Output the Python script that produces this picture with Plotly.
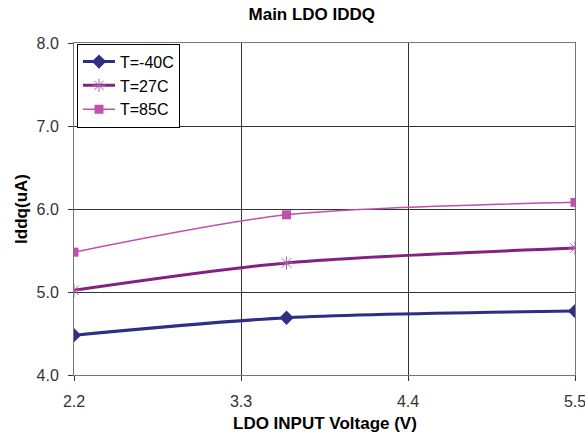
import plotly.graph_objects as go

voltage = [2.2, 3.6, 5.5]
iddq_m40 = [4.48, 4.69, 4.77]
iddq_27 = [5.02, 5.35, 5.53]
iddq_85 = [5.48, 5.93, 6.08]
x_ticks = [2.2, 3.3, 4.4, 5.5]
y_ticks = [4.0, 5.0, 6.0, 7.0, 8.0]

fig = go.Figure()
fig.add_trace(go.Scatter(
    x=voltage, y=iddq_m40, name="T=-40C", mode="lines+markers",
    line=dict(color="#2e2e84", width=3, shape="spline", smoothing=0.8),
    marker=dict(symbol="diamond", size=11, color="#2e2e84")))
fig.add_trace(go.Scatter(
    x=voltage, y=iddq_27, name="T=27C", mode="lines+markers",
    line=dict(color="#84207f", width=3, shape="spline", smoothing=0.8),
    marker=dict(symbol="asterisk-open", size=11, color="#b060b0",
                line=dict(color="#b060b0", width=1))))
fig.add_trace(go.Scatter(
    x=voltage, y=iddq_85, name="T=85C", mode="lines+markers",
    line=dict(color="#c04fae", width=1.5, shape="spline", smoothing=0.8),
    marker=dict(symbol="square", size=9, color="#c04fae")))

fig.update_layout(
    width=585, height=439,
    margin=dict(l=74, r=10, t=43, b=64, autoexpand=False),
    paper_bgcolor="white", plot_bgcolor="white",
    font=dict(family="Liberation Sans, Arial, sans-serif", size=16, color="#333"),
    title=dict(text="<b>Main LDO IDDQ</b>", x=0.533, xanchor="center",
               y=0.967, yanchor="middle", automargin=False,
               font=dict(size=17, color="#000")),
    showlegend=True,
    legend=dict(x=0.006, y=0.998, xanchor="left", yanchor="top",
                bgcolor="white", bordercolor="#000", borderwidth=1,
                font=dict(size=16, color="#000"), tracegroupgap=0,
                itemwidth=32),
    annotations=[
        dict(text="<b>LDO INPUT Voltage (V)</b>", xref="paper", yref="paper",
             x=0.5, y=-0.145, xanchor="center", yanchor="middle", showarrow=False,
             font=dict(size=17, color="#000")),
        dict(text="<b>Iddq(uA)</b>", xref="paper", yref="paper",
             x=-0.106, y=0.5, xanchor="center", yanchor="middle", showarrow=False,
             textangle=-90, font=dict(size=17, color="#000")),
    ],
)
fig.update_xaxes(
    range=[2.2, 5.5], tickvals=x_ticks, ticktext=[f"{v:.1f}" for v in x_ticks],
    showgrid=True, gridcolor="#333", gridwidth=1,
    showline=True, linecolor="#777", linewidth=1, mirror=True,
    ticks="outside", ticklen=5, tickcolor="#333", ticklabelstandoff=7,
    ticklabeloverflow="allow",
    zeroline=False, automargin=False,
)
fig.update_yaxes(
    range=[4.0, 8.0], tickvals=y_ticks, ticktext=[f"{v:.1f}" for v in y_ticks],
    showgrid=True, gridcolor="#333", gridwidth=1,
    showline=True, linecolor="#777", linewidth=1, mirror=True,
    ticks="outside", ticklen=5, tickcolor="#333", ticklabelstandoff=6,
    ticklabeloverflow="allow",
    zeroline=False, automargin=False,
)

fig.write_html("out.html", config={"displayModeBar": False},
               post_script="document.body.style.margin='0';document.body.style.overflow='hidden';")
